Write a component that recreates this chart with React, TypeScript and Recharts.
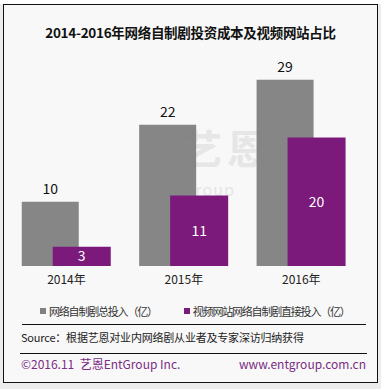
import React from 'react';
import { BarChart, Bar, XAxis, YAxis, LabelList } from 'recharts';

const years = ['2014年', '2015年', '2016年'];
const totalInvest = [10, 22, 29];
const siteInvest = [3, 11, 20];

const totalName = '网络自制剧总投入（亿）';
const siteName = '视频网站网络自制剧直接投入（亿）';

const data = years.map((year, i) => ({
  year,
  total: totalInvest[i],
  site: siteInvest[i],
}));

const FONT = '"Noto Sans CJK SC", "Noto Sans", sans-serif';

const App: React.FC = () => {
  return (
    <div
      style={{
        position: 'absolute',
        left: 0,
        top: 0,
        width: 381,
        height: 389,
        background: '#ececec',
        fontFamily: FONT,
        overflow: 'hidden',
      }}
    >
      <div
        style={{
          position: 'absolute',
          left: 3,
          top: 4,
          width: 373,
          height: 377,
          border: '1.5px solid #111',
          background: '#f8f8f8',
        }}
      />
      <div
        style={{
          position: 'absolute',
          left: 0,
          top: 0,
          width: 381,
          height: 4,
          background: '#fff',
        }}
      />
      <div
        style={{
          position: 'absolute',
          left: 0,
          top: 23,
          width: 381,
          textAlign: 'center',
          fontSize: 13.5,
          lineHeight: '18px',
          fontWeight: 700,
          color: '#111',
          letterSpacing: -0.3,
        }}
      >
        2014-2016年网络自制剧投资成本及视频网站占比
      </div>

      {/* watermark */}
      <div
        style={{
          position: 'absolute',
          left: 182,
          top: 127,
          fontSize: 40,
          lineHeight: 1,
          fontWeight: 700,
          color: '#e6e6e6',
          letterSpacing: 5,
        }}
      >
        艺恩
      </div>
      <div
        style={{
          position: 'absolute',
          left: 158,
          top: 181,
          fontSize: 16,
          lineHeight: 1,
          color: '#e6e6e6',
          letterSpacing: 1,
        }}
      >
        entgroup
      </div>

      <div style={{ position: 'absolute', left: 0, top: 0 }}>
        <BarChart
          width={381}
          height={300}
          data={data}
          margin={{ top: 73.4, right: 21, bottom: 4, left: 7.75 }}
          barGap={-26}
        >
          <XAxis
            dataKey="year"
            axisLine={false}
            tickLine={false}
            height={30}
            tick={{ fontSize: 12, fill: '#222', fontFamily: FONT, dy: 1 }}
          />
          <YAxis hide domain={[0, 30]} />
          <Bar dataKey="total" name={totalName} fill="#808080" fillOpacity={0.95} barSize={57} isAnimationActive={false}>
            <LabelList dataKey="total" position="top" offset={8} fill="#111" fontSize={14} fontFamily={FONT} />
          </Bar>
          <Bar dataKey="site" name={siteName} fill="#7b1a7b" barSize={58} isAnimationActive={false}>
            <LabelList dataKey="site" position="center" fill="#fff" fontSize={14} fontFamily={FONT} />
          </Bar>
        </BarChart>
      </div>

      {/* legend */}
      <div
        style={{
          position: 'absolute',
          top: 303,
          left: 40,
          fontSize: 11,
          color: '#333',
          display: 'flex',
          alignItems: 'center',
          whiteSpace: 'nowrap',
          letterSpacing: -1.2,
        }}
      >
        <span style={{ display: 'inline-block', width: 6, height: 6, background: '#808080', marginRight: 3 }} />
        <span>{totalName}</span>
        <span style={{ display: 'inline-block', width: 6, height: 6, background: '#7b1a7b', marginLeft: 27, marginRight: 3 }} />
        <span>{siteName}</span>
      </div>

      <div style={{ position: 'absolute', left: 22, top: 323.5, width: 344, height: 1, background: '#111' }} />
      <div
        style={{
          position: 'absolute',
          left: 21,
          top: 329,
          fontSize: 11,
          color: '#222',
          whiteSpace: 'nowrap',
          letterSpacing: -0.2,
        }}
      >
        Source：根据艺恩对业内网络剧从业者及专家深访归纳获得
      </div>

      <div style={{ position: 'absolute', left: 20, top: 352.5, width: 347, height: 1, background: '#111' }} />
      <div
        style={{
          position: 'absolute',
          left: 21,
          top: 355,
          fontSize: 12,
          color: '#7b2d85',
          whiteSpace: 'nowrap',
        }}
      >
        ©2016.11&nbsp;&nbsp;艺恩EntGroup Inc.
      </div>
      <div
        style={{
          position: 'absolute',
          right: 15,
          top: 355,
          fontSize: 12,
          color: '#7b2d85',
          whiteSpace: 'nowrap',
        }}
      >
        www.entgroup.com.cn
      </div>
    </div>
  );
};

export default App;
